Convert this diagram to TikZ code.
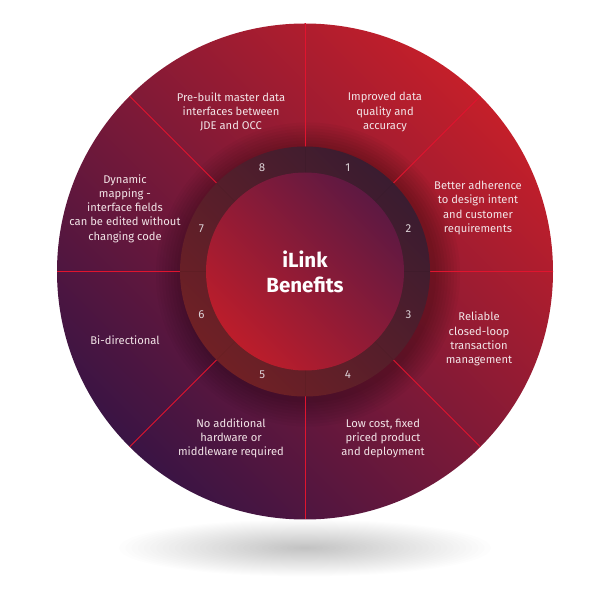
\documentclass[tikz,border=0pt]{standalone}
\usepackage{fontspec}
\setmainfont{Fira Sans}
\definecolor{bgA}{HTML}{C41F2A}
\definecolor{bgM}{HTML}{801A38}
\definecolor{bgB}{HTML}{3A1444}
\definecolor{ringA}{HTML}{3A1C30}
\definecolor{ringB}{HTML}{702025}
\definecolor{inA}{HTML}{5E1942}
\definecolor{inB}{HTML}{BC1D2B}
\definecolor{sep}{HTML}{E0142E}
\definecolor{txt}{HTML}{F2E4E7}
\definecolor{num}{HTML}{DCD2D6}
\begin{document}
\begin{tikzpicture}[x=1pt,y=1pt,
  benefit/.style={text=txt, align=center, font=\fontsize{11.2}{14.2}\selectfont, inner sep=0pt},
  numlabel/.style={text=num, font=\fontsize{11.5}{13}\selectfont, inner sep=0pt},
  titletext/.style={text=white, align=center, font=\fontsize{20.5}{24.5}\selectfont\bfseries},
  seam/.style={draw=sep, line width=0.85pt}]
\useasboundingbox (0,0) rectangle (600,611);
\coordinate (c) at (305,339.5);
\coordinate (h) at (308,336.5);
% shadow
\foreach \i in {1,...,30} {\fill[black, opacity=0.008] (305,63) ellipse [x radius={6.2*\i}, y radius={0.95*\i}];}
% outer disc
\shade[top color=bgA, middle color=bgM, bottom color=bgB, shading angle=-45] (c) circle (248);
% halo round the ring
\foreach \r in {128,131,...,152} {\fill[black, opacity=0.03] (h) circle (\r);}
% separators
\foreach \a in {0,45,...,315} {\draw[seam] (c) -- ++(\a:248);}
% ring
\shade[top color=ringA, bottom color=ringB, shading angle=-45] (c) circle (125);
\foreach \a in {0,45,...,315} {\draw[black, opacity=0.06, line width=0.6pt] (c) -- ++(\a:125);}
% inner disc
\shade[top color=inA, bottom color=inB, shading angle=-45] (c) circle (99);
\node[titletext] (title) at (305,339) {iLink\\Benefits};
% numbers
\foreach \n/\a in {1/67.5,2/22.5,3/-22.5,4/-67.5,5/-112.5,6/-157.5,7/157.5,8/112.5}
  {\path (c) ++(\a:112) node[numlabel] (n\n) {\n};}
% benefits
\node[benefit] (b8) at (231,499) {Pre-built master data\\interfaces between\\JDE and OCC};
\node[benefit] (b1) at (385,499) {Improved data\\quality and\\accuracy};
\node[benefit] (b2) at (478,403) {Better adherence\\to design intent\\and customer\\requirements};
\node[benefit] (b7) at (125,402.5) {Dynamic\\mapping -\\interface fields\\can be edited without\\changing code};
\node[benefit] (b3) at (479,272) {Reliable\\closed-loop\\transaction\\management};
\node[benefit] (b4) at (383,172.5) {Low cost, fixed\\priced product\\and deployment};
\node[benefit] (b5) at (231,172.5) {No additional\\hardware or\\middleware required};
\node[benefit] (b6) at (125,271) {Bi-directional};
\end{tikzpicture}
\end{document}
